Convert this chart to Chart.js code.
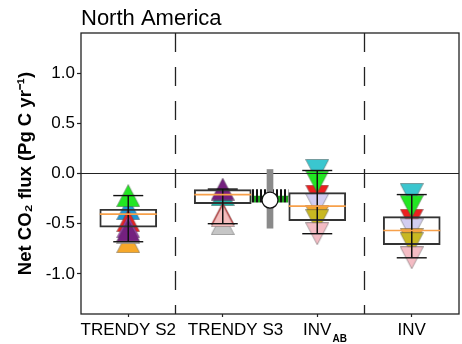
<!DOCTYPE html>
<html>
<head>
<meta charset="utf-8">
<script src="https://cdn.jsdelivr.net/npm/chart.js@4.4.1/dist/chart.umd.min.js"></script>
<style>
  html, body { margin: 0; padding: 0; background: #ffffff; }
  #wrap { width: 462px; height: 344px; }
</style>
</head>
<body>
<div id="wrap"><canvas id="chart" width="462" height="344"></canvas></div>
<script>
// North America net CO2 flux (Pg C / yr) by estimate family
const categories = ['TRENDY S2', 'TRENDY S3', 'INV', 'INV'];
const categorySub = ['', '', 'AB', ''];
const yTicks = [-1.0, -0.5, 0.0, 0.5, 1.0];

// box-plot statistics, one entry per category
const boxLow      = [-0.535, -0.300, -0.470, -0.710];
const boxHigh     = [-0.356, -0.160, -0.190, -0.430];
const boxMedian   = [-0.405, -0.210, -0.325, -0.568];
const whiskerHigh = [-0.220, -0.155,  0.030, -0.210];
const whiskerLow  = [-0.680, -0.500, -0.600, -0.840];

// TRENDY models: value under S2 and under S3 (null = not shown)
const trendyModels = ['T1', 'T2', 'T3', 'T4', 'T5', 'T6', 'T7', 'T8', 'T9'];
const trendyS2     = [-0.680, -0.590, -0.350, null,   -0.220, -0.470, null,   -0.530, -0.565];
const trendyS3     = [null,   -0.500, null,   -0.210, null,   -0.400, -0.420, null,   -0.155];
const trendyColors = ['#f6a82a', '#c6c6c6', '#1e96d4', '#1cb3a6', '#22e622', '#ec2020', '#f5bdbd', '#a33cb8', '#74207f'];

// inversion models: value for INV_AB and for INV
const invModels = ['I1', 'I2', 'I3', 'I4', 'I5', 'I6', 'I7'];
const invAB     = [0.030, -0.225, -0.083, -0.310, -0.430, -0.470, -0.600];
const invAll    = [-0.210, -0.465, -0.330, -0.560, -0.660, -0.700, -0.840];
const invColors = ['#3ac6cf', '#ec2020', '#22e622', '#d2cdf2', '#f3a72e', '#c8b822', '#f4bcc4'];

// independent estimate between the TRENDY S3 and INV_AB columns
const refRange   = [-0.545, 0.040];
const refCentral = -0.265;
const refUpper   = [-0.225, -0.160];
const refLower   = [-0.285, -0.225];

// axis layout
const xSlot = i => 2 * i + 1;
const xMid = 4;
const xSeparators = [2, 6];
const xMin = 0, xMax = 8;
const yMin = -1.4, yMax = 1.4;
// leading space in front of a tick label, keeps neighbouring labels apart
const labelLead = ['', '\u2003\u2002', '', ''];

const FONT = '"Liberation Sans", Arial, sans-serif';
Chart.defaults.font.family = FONT;
Chart.defaults.color = '#000';

function triangleImage(color, down) {
  const w = 24, h = 23;
  const c = document.createElement('canvas');
  c.width = w; c.height = h;
  const g = c.getContext('2d');
  g.beginPath();
  if (down) {
    g.moveTo(0.5, 0.5); g.lineTo(w - 0.5, 0.5); g.lineTo(w / 2, h - 0.5);
  } else {
    g.moveTo(w / 2, 0.5); g.lineTo(w - 0.5, h - 0.5); g.lineTo(0.5, h - 0.5);
  }
  g.closePath();
  g.fillStyle = color;
  g.fill();
  g.strokeStyle = 'rgba(70,70,70,0.45)';
  g.lineWidth = 1;
  g.stroke();
  return c;
}

function stripes(fill) {
  const c = document.createElement('canvas');
  c.width = 4; c.height = 4;
  const g = c.getContext('2d');
  g.fillStyle = fill; g.fillRect(0, 0, 4, 4);
  g.fillStyle = '#111'; g.fillRect(0, 0, 2, 4);
  return g.createPattern(c, 'repeat');
}

const datasets = [];

// dashed separators between the model families
xSeparators.forEach(sx => datasets.push({
  type: 'line', data: [{ x: sx, y: yMax }, { x: sx, y: yMin }],
  borderColor: '#222', borderWidth: 1.3, borderDash: [19, 15], pointRadius: 0
}));

// hatched band of the independent estimate
datasets.push({ type: 'bar', data: [{ x: xMid, y: refUpper }], backgroundColor: stripes('#ffffff'),
  borderWidth: 0, barThickness: 36, grouped: false });
datasets.push({ type: 'bar', data: [{ x: xMid, y: refLower }], backgroundColor: stripes('#1fa51f'),
  borderWidth: 0, barThickness: 36, grouped: false });

// individual models
trendyModels.forEach((name, m) => {
  const pts = [];
  if (trendyS2[m] !== null) pts.push({ x: xSlot(0), y: trendyS2[m] });
  if (trendyS3[m] !== null) pts.push({ x: xSlot(1), y: trendyS3[m] });
  datasets.push({ type: 'scatter', label: name, data: pts,
    pointStyle: triangleImage(trendyColors[m], false), pointRadius: 11 });
});
invModels.forEach((name, m) => {
  datasets.push({ type: 'scatter', label: name,
    data: [{ x: xSlot(2), y: invAB[m] }, { x: xSlot(3), y: invAll[m] }],
    pointStyle: triangleImage(invColors[m], true), pointRadius: 11 });
});

// zero line
datasets.push({ type: 'line', data: [{ x: xMin, y: 0 }, { x: xMax, y: 0 }],
  borderColor: '#222', borderWidth: 1.2, pointRadius: 0 });

// boxes
datasets.push({ type: 'bar', data: categories.map((c, i) => ({ x: xSlot(i), y: [boxLow[i], boxHigh[i]] })),
  backgroundColor: 'rgba(0,0,0,0)', borderColor: '#333', borderWidth: 1.3, borderSkipped: false,
  barThickness: 57, grouped: false });

// whiskers
const whiskerPts = [];
categories.forEach((c, i) => {
  whiskerPts.push({ x: xSlot(i), y: whiskerHigh[i] }, { x: xSlot(i), y: whiskerLow[i] }, { x: xSlot(i), y: null });
});
datasets.push({ type: 'line', data: whiskerPts, borderColor: '#111', borderWidth: 1.5, pointRadius: 0, spanGaps: false });

// whisker caps
datasets.push({ type: 'scatter',
  data: categories.flatMap((c, i) => [{ x: xSlot(i), y: whiskerHigh[i] }, { x: xSlot(i), y: whiskerLow[i] }]),
  pointStyle: 'line', pointRadius: 15, pointBorderColor: '#111', borderColor: '#111', pointBorderWidth: 1.4 });

// medians
datasets.push({ type: 'scatter', data: categories.map((c, i) => ({ x: xSlot(i), y: boxMedian[i] })),
  pointStyle: 'line', pointRadius: 28.5, pointBorderColor: '#f7a04a', borderColor: '#f7a04a', pointBorderWidth: 1.6 });

// range and central value of the independent estimate
datasets.push({ type: 'bar', data: [{ x: xMid, y: refRange }], backgroundColor: '#8a8a8a',
  borderWidth: 0, barThickness: 6, grouped: false });
datasets.push({ type: 'scatter', data: [{ x: xMid, y: refCentral }], pointStyle: 'circle', pointRadius: 8,
  pointBackgroundColor: '#ffffff', backgroundColor: '#ffffff', pointBorderColor: '#111', borderColor: '#111',
  pointBorderWidth: 1.3 });

datasets.forEach((d, i) => { d.order = datasets.length - i; });

const framePlugin = {
  id: 'frame',
  afterDatasetsDraw(chart) {
    const { ctx, chartArea: a } = chart;
    ctx.save();
    ctx.strokeStyle = '#222';
    ctx.lineWidth = 1.3;
    ctx.strokeRect(a.left, a.top, a.right - a.left, a.bottom - a.top);
    ctx.restore();
  }
};

const subscriptPlugin = {
  id: 'subscripts',
  afterDraw(chart) {
    const sc = chart.scales.x, ctx = chart.ctx;
    categorySub.forEach((sub, i) => {
      if (!sub) return;
      const x = sc.getPixelForValue(xSlot(i));
      ctx.save();
      ctx.font = '17px ' + FONT;
      const w = ctx.measureText(labelLead[i] + categories[i]).width;
      ctx.font = 'bold 10px ' + FONT;
      ctx.fillStyle = '#000';
      ctx.textAlign = 'left';
      ctx.textBaseline = 'alphabetic';
      ctx.fillText(sub, x + w / 2 + 1, sc.top + 27.5);
      ctx.restore();
    });
  }
};

new Chart(document.getElementById('chart'), {
  type: 'scatter',
  data: { datasets },
  options: {
    responsive: false,
    animation: false,
    events: [],
    layout: { autoPadding: false, padding: { top: 0, right: 3, bottom: 0, left: 0 } },
    plugins: {
      legend: { display: false },
      tooltip: { enabled: false },
      title: {
        display: true, text: 'North America', align: 'start', fullSize: false,
        color: '#000', font: { size: 22, weight: 'normal' }, padding: { top: 5.5, bottom: 1.1 }
      }
    },
    scales: {
      x: {
        type: 'linear', min: xMin, max: xMax, offset: false,
        afterFit: s => { s.height = 30; s.paddingLeft = 0; s.paddingRight = 0; },
        afterBuildTicks: s => { s.ticks = categories.map((c, i) => ({ value: xSlot(i) })); },
        ticks: { autoSkip: false, maxRotation: 0, padding: 3, color: '#000', font: { size: 17 },
          callback: v => labelLead[(v - 1) / 2] + categories[(v - 1) / 2] },
        grid: { offset: false, drawOnChartArea: false, drawTicks: true, tickLength: 3, tickColor: '#222', tickWidth: 1.2 },
        border: { display: false }
      },
      y: {
        type: 'linear', min: yMin, max: yMax,
        afterFit: s => { s.width = 81; },
        afterBuildTicks: s => { s.ticks = yTicks.map(v => ({ value: v })); },
        ticks: { padding: 2, color: '#000', font: { size: 17 }, callback: v => v.toFixed(1) },
        grid: { drawOnChartArea: false, drawTicks: true, tickLength: 4, tickColor: '#222', tickWidth: 1.2 },
        border: { display: false },
        title: { display: true, text: 'Net CO\u2082 flux (Pg C yr\u207B\u00B9)', color: '#000',
          font: { size: 18.5, weight: 'bold' }, padding: { top: 15, bottom: 0 } }
      }
    }
  },
  plugins: [framePlugin, subscriptPlugin]
});
</script>
</body>
</html>
